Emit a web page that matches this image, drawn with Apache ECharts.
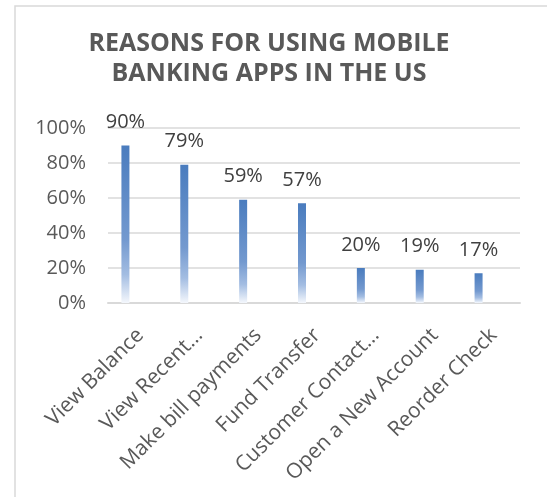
<!DOCTYPE html>
<html>
<head>
<meta charset="utf-8">
<script src="https://cdn.jsdelivr.net/npm/echarts@6/dist/echarts.min.js"></script>
<style>
  html, body { margin: 0; padding: 0; background: #ffffff; }
  #chart { width: 547px; height: 497px; }
</style>
</head>
<body>
<div id="chart"></div>
<script>
// Reasons for using mobile banking apps (share of users, %)
const chartTitle = 'REASONS FOR USING MOBILE\nBANKING APPS IN THE US';
const categories = [
  'View Balance',
  'View Recent…',
  'Make bill payments',
  'Fund Transfer',
  'Customer Contact…',
  'Open a New Account',
  'Reorder Check'
];
const shares = [90, 79, 59, 57, 20, 19, 17];
const yTicks = [0, 20, 40, 60, 80, 100];

const chart = echarts.init(document.getElementById('chart'), null, { renderer: 'canvas' });

const barFill = new echarts.graphic.LinearGradient(0, 0, 0, 1, [
  { offset: 0, color: '#4a7cbe' },
  { offset: 0.6, color: '#7399cf' },
  { offset: 0.82, color: '#a3bde2' },
  { offset: 1, color: '#f4f7fc' }
]);

const labelFont = 'Open Sans';

chart.setOption({
  animation: false,
  backgroundColor: '#ffffff',
  graphic: [{
    type: 'rect',
    shape: { x: 15, y: 6, width: 600, height: 560 },
    style: { fill: 'none', stroke: '#d9d9d9', lineWidth: 1.5 },
    silent: true
  }, {
    // two-line heading, each line centred over the plot
    type: 'text',
    x: 269,
    y: 29,
    silent: true,
    style: {
      text: chartTitle,
      fontFamily: labelFont,
      fontWeight: 'bold',
      fontSize: 25,
      lineHeight: 30,
      align: 'center',
      verticalAlign: 'top',
      fill: '#595959'
    }
  }],
  // grid 0: value scale, gridlines and baseline
  // grid 1: the bars
  // grid 2: slanted category labels, set a little right of each bar
  grid: [
    { left: 108, right: 27, top: 128, bottom: 194 },
    { left: 96, right: 39, top: 128, bottom: 194 },
    { left: 111, right: 24, top: 128, bottom: 194 }
  ],
  xAxis: [{
    type: 'category',
    gridIndex: 0,
    data: categories,
    axisTick: { show: false },
    axisLabel: { show: false },
    axisLine: { lineStyle: { color: '#d9d9d9', width: 2 } }
  }, {
    type: 'category',
    gridIndex: 1,
    data: categories,
    axisTick: { show: false },
    axisLine: { show: false },
    axisLabel: { show: false }
  }, {
    type: 'category',
    gridIndex: 2,
    data: categories,
    axisTick: { show: false },
    axisLine: { show: false },
    axisLabel: {
      rotate: 45,
      interval: 0,
      margin: 29,
      fontFamily: labelFont,
      fontSize: 21,
      color: '#595959'
    }
  }],
  yAxis: [{
    type: 'value',
    gridIndex: 0,
    min: yTicks[0],
    max: yTicks[yTicks.length - 1],
    interval: 20,
    axisLine: { show: false },
    axisTick: { show: false },
    splitLine: { lineStyle: { color: '#d9d9d9', width: 1.5 } },
    axisLabel: {
      margin: 22,
      fontFamily: labelFont,
      fontSize: 20,
      color: '#595959',
      formatter: v => v + '%'
    }
  }, {
    type: 'value',
    gridIndex: 1,
    min: yTicks[0],
    max: yTicks[yTicks.length - 1],
    interval: 20,
    show: false,
    splitLine: { show: false }
  }, {
    type: 'value',
    gridIndex: 2,
    min: yTicks[0],
    max: yTicks[yTicks.length - 1],
    interval: 20,
    show: false,
    splitLine: { show: false }
  }],
  series: [{
    type: 'bar',
    xAxisIndex: 1,
    yAxisIndex: 1,
    data: shares,
    barWidth: 8,
    itemStyle: { color: barFill },
    label: {
      show: true,
      position: 'top',
      distance: 13,
      fontFamily: labelFont,
      fontSize: 20,
      color: '#404040',
      formatter: p => p.value + '%'
    }
  }]
});
</script>
</body>
</html>
